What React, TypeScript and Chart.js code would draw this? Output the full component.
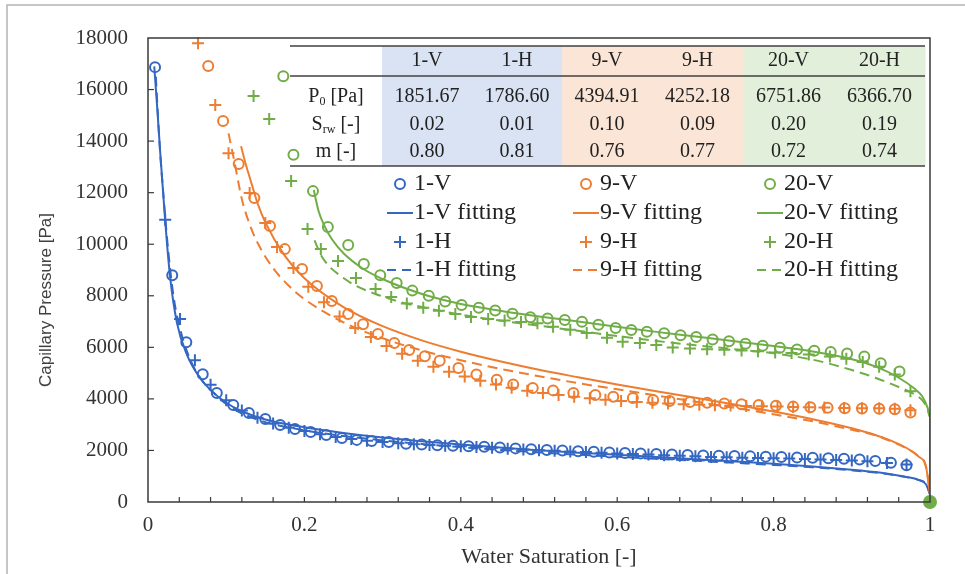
import React, { useEffect, useRef } from 'react';
import { Chart, registerables } from 'chart.js';

Chart.register(...registerables);

const SERIF = "'Liberation Serif', 'Times New Roman', serif";
const SANS = "'Liberation Sans', Arial, sans-serif";
const BLUE = '#3467c2';
const ORANGE = '#ed7d31';
const GREEN = '#70ad47';
const TEXT = '#333333';

type Pt = [number, number];

// ---------- measured data (Water Saturation, Capillary Pressure) ----------
const points1V: Pt[] = [
  [0.009, 16870], [0.031, 8800], [0.049, 6200], [0.070, 4960], [0.088, 4230], [0.109, 3760],
  [0.129, 3450], [0.150, 3220], [0.169, 2990], [0.188, 2830], [0.208, 2720], [0.228, 2600],
  [0.248, 2480], [0.267, 2410], [0.286, 2370], [0.308, 2330], [0.330, 2260], [0.350, 2230],
  [0.370, 2200], [0.390, 2180], [0.410, 2160], [0.430, 2140], [0.450, 2110], [0.470, 2080],
  [0.490, 2050], [0.510, 2020], [0.530, 2000], [0.550, 1970], [0.570, 1950], [0.590, 1920],
  [0.610, 1900], [0.630, 1880], [0.650, 1860], [0.670, 1840], [0.690, 1820], [0.710, 1800],
  [0.730, 1790], [0.750, 1780], [0.770, 1770], [0.790, 1760], [0.810, 1750], [0.830, 1730],
  [0.850, 1720], [0.870, 1700], [0.890, 1680], [0.910, 1650], [0.930, 1590], [0.950, 1520],
  [0.970, 1430], [1.000, 0],
];

const points1H: Pt[] = [
  [0.022, 10950], [0.041, 7100], [0.060, 5500], [0.080, 4550], [0.100, 3950], [0.120, 3550],
  [0.140, 3270], [0.160, 3050], [0.180, 2880], [0.200, 2750], [0.220, 2630], [0.240, 2520],
  [0.260, 2440], [0.280, 2380], [0.300, 2330], [0.320, 2280], [0.340, 2240], [0.360, 2210],
  [0.380, 2180], [0.400, 2160], [0.420, 2130], [0.440, 2100], [0.460, 2070], [0.480, 2040],
  [0.500, 2010], [0.520, 1990], [0.540, 1960], [0.560, 1940], [0.580, 1910], [0.600, 1880],
  [0.620, 1860], [0.640, 1840], [0.660, 1810], [0.680, 1790], [0.700, 1770], [0.720, 1750],
  [0.740, 1740], [0.760, 1720], [0.780, 1710], [0.800, 1700], [0.820, 1690], [0.840, 1670],
  [0.860, 1650], [0.880, 1630], [0.900, 1610], [0.920, 1580], [0.945, 1510], [0.970, 1450],
  [1.000, 0],
];

const points9V: Pt[] = [
  [0.077, 16910], [0.096, 14780], [0.116, 13110], [0.136, 11790], [0.156, 10710], [0.175, 9810],
  [0.197, 9040], [0.216, 8380], [0.235, 7800], [0.256, 7290], [0.275, 6900], [0.294, 6520],
  [0.315, 6170], [0.334, 5900], [0.354, 5650], [0.373, 5480], [0.397, 5200], [0.420, 4950],
  [0.446, 4740], [0.467, 4560], [0.492, 4420], [0.518, 4330], [0.544, 4230], [0.572, 4150],
  [0.595, 4080], [0.620, 4030], [0.646, 3960], [0.667, 3920], [0.693, 3880], [0.715, 3850],
  [0.737, 3820], [0.759, 3790], [0.781, 3760], [0.803, 3730], [0.825, 3700], [0.847, 3680],
  [0.869, 3660], [0.891, 3640], [0.913, 3630], [0.935, 3620], [0.955, 3600], [0.975, 3470],
  [1.000, 0],
];

const points9H: Pt[] = [
  [0.064, 17800], [0.086, 15400], [0.103, 13530], [0.130, 11990], [0.150, 10820], [0.165, 9890],
  [0.186, 9080], [0.205, 8350], [0.225, 7750], [0.245, 7200], [0.265, 6750], [0.285, 6400],
  [0.305, 6050], [0.325, 5750], [0.345, 5480], [0.365, 5250], [0.385, 5050], [0.405, 4870],
  [0.425, 4700], [0.445, 4560], [0.465, 4430], [0.485, 4320], [0.505, 4230], [0.525, 4150],
  [0.545, 4080], [0.565, 4020], [0.585, 3970], [0.605, 3920], [0.625, 3880], [0.645, 3850],
  [0.665, 3820], [0.685, 3790], [0.705, 3770], [0.725, 3750], [0.745, 3740], [0.765, 3720],
  [0.785, 3710], [0.805, 3700], [0.825, 3690], [0.845, 3680], [0.865, 3670], [0.890, 3650],
  [0.913, 3640], [0.935, 3640], [0.955, 3620], [0.975, 3560], [1.000, 0],
];

const points20V: Pt[] = [
  [0.173, 16520], [0.186, 13470], [0.211, 12060], [0.230, 10670], [0.256, 9970], [0.276, 9230],
  [0.297, 8800], [0.318, 8500], [0.338, 8200], [0.359, 8000], [0.380, 7780], [0.401, 7640],
  [0.423, 7540], [0.444, 7430], [0.466, 7300], [0.489, 7170], [0.511, 7120], [0.533, 7060],
  [0.555, 6990], [0.576, 6880], [0.598, 6750], [0.618, 6670], [0.638, 6600], [0.660, 6550],
  [0.681, 6470], [0.701, 6400], [0.722, 6300], [0.743, 6240], [0.764, 6140], [0.786, 6060],
  [0.808, 5980], [0.830, 5920], [0.852, 5870], [0.873, 5820], [0.894, 5760], [0.916, 5640],
  [0.937, 5380], [0.961, 5060], [1.000, 0],
];

const points20H: Pt[] = [
  [0.135, 15750], [0.155, 14860], [0.183, 12450], [0.204, 10590], [0.221, 9810], [0.243, 9350],
  [0.266, 8690], [0.291, 8260], [0.311, 7950], [0.331, 7700], [0.352, 7540], [0.372, 7420],
  [0.393, 7290], [0.413, 7180], [0.435, 7100], [0.456, 7040], [0.477, 6980], [0.498, 6930],
  [0.518, 6800], [0.540, 6680], [0.561, 6560], [0.587, 6370], [0.607, 6220], [0.629, 6170],
  [0.650, 6090], [0.671, 5990], [0.693, 5950], [0.715, 5930], [0.737, 5910], [0.759, 5880],
  [0.780, 5850], [0.802, 5800], [0.823, 5780], [0.845, 5720], [0.872, 5640], [0.893, 5560],
  [0.914, 5430], [0.935, 5250], [0.955, 4950], [0.975, 4300], [1.000, 0],
];

// ---------- fitted curves ----------
const fit1V: Pt[] = [
  [0.008, 16900], [0.012, 15200], [0.016, 13400], [0.022, 10900], [0.028, 8800], [0.037, 6950],
  [0.050, 5700], [0.065, 4880], [0.080, 4350], [0.100, 3850], [0.120, 3520], [0.150, 3200],
  [0.200, 2900], [0.250, 2680], [0.300, 2500], [0.350, 2360], [0.400, 2230], [0.450, 2110],
  [0.500, 2010], [0.550, 1915], [0.600, 1830], [0.650, 1745], [0.700, 1660], [0.750, 1575],
  [0.800, 1485], [0.850, 1380], [0.900, 1255], [0.930, 1165], [0.950, 1080], [0.970, 970],
  [0.985, 860], [0.995, 680], [1.000, 300],
];

const fit1H: Pt[] = [
  [0.010, 16500], [0.015, 13800], [0.020, 11800], [0.026, 9700], [0.033, 7900], [0.042, 6600],
  [0.055, 5450], [0.070, 4680], [0.085, 4200], [0.100, 3800], [0.120, 3440], [0.150, 3100],
  [0.200, 2780], [0.250, 2560], [0.300, 2390], [0.350, 2250], [0.400, 2130], [0.450, 2020],
  [0.500, 1925], [0.550, 1835], [0.600, 1755], [0.650, 1675], [0.700, 1600], [0.750, 1520],
  [0.800, 1440], [0.850, 1345], [0.900, 1230], [0.930, 1145], [0.950, 1065], [0.970, 965],
  [0.985, 860], [0.995, 690], [1.000, 300],
];

const fit9V: Pt[] = [
  [0.119, 13800], [0.125, 13100], [0.130, 12600], [0.140, 11600], [0.150, 10850], [0.175, 9550],
  [0.200, 8680], [0.250, 7560], [0.300, 6820], [0.350, 6270], [0.400, 5830], [0.450, 5460],
  [0.500, 5130], [0.550, 4840], [0.600, 4560], [0.650, 4300], [0.700, 4040], [0.750, 3780],
  [0.800, 3510], [0.850, 3210], [0.900, 2860], [0.930, 2600], [0.950, 2380], [0.970, 2095],
  [0.985, 1770], [0.995, 1350], [1.000, 300],
];

const fit9H: Pt[] = [
  [0.103, 14300], [0.110, 13280], [0.120, 11750], [0.130, 10770], [0.140, 10060], [0.160, 9070],
  [0.180, 8390], [0.200, 7870], [0.250, 6970], [0.300, 6350], [0.350, 5880], [0.400, 5500],
  [0.450, 5170], [0.500, 4880], [0.550, 4610], [0.600, 4370], [0.650, 4130], [0.700, 3890],
  [0.750, 3655], [0.800, 3400], [0.850, 3130], [0.900, 2800], [0.930, 2590], [0.950, 2350],
  [0.970, 2080], [0.985, 1790], [0.995, 1370], [1.000, 300],
];

const fit20V: Pt[] = [
  [0.212, 12100], [0.218, 11300], [0.225, 10750], [0.235, 10200], [0.250, 9650], [0.275, 9050],
  [0.300, 8650], [0.330, 8280], [0.360, 7980], [0.400, 7680], [0.450, 7420], [0.500, 7200],
  [0.550, 7000], [0.600, 6800], [0.650, 6600], [0.700, 6420], [0.750, 6240], [0.800, 6050],
  [0.850, 5840], [0.900, 5540], [0.930, 5260], [0.960, 4820], [0.980, 4400], [0.990, 4100],
  [0.997, 3650], [1.000, 3300], [1.000, 0],
];

const fit20H: Pt[] = [
  [0.213, 10150], [0.220, 9650], [0.230, 9200], [0.245, 8800], [0.265, 8400], [0.290, 8080],
  [0.320, 7780], [0.360, 7500], [0.400, 7270], [0.450, 7040], [0.500, 6840], [0.550, 6640],
  [0.600, 6440], [0.650, 6250], [0.700, 6080], [0.750, 5930], [0.800, 5770], [0.850, 5520],
  [0.900, 5120], [0.930, 4820], [0.960, 4460], [0.980, 4180], [0.990, 3950], [0.997, 3600],
  [1.000, 3300], [1.000, 0],
];

// ---------- axis and table text ----------
const xTickLabels = ['0', '0.2', '0.4', '0.6', '0.8', '1'];
const yMin = 0;
const yMax = 18000;
const yStep = 2000;
const xTitle = 'Water Saturation [-]';
const yTitle = 'Capillary Pressure [Pa]';

const tableHeaders = ['1-V', '1-H', '9-V', '9-H', '20-V', '20-H'];
const p0Values = ['1851.67', '1786.60', '4394.91', '4252.18', '6751.86', '6366.70'];
const srwValues = ['0.02', '0.01', '0.10', '0.09', '0.20', '0.19'];
const mValues = ['0.80', '0.81', '0.76', '0.77', '0.72', '0.74'];

const legendGroups = [
  { color: BLUE, labels: ['1-V', '1-V fitting', '1-H', '1-H fitting'] },
  { color: ORANGE, labels: ['9-V', '9-V fitting', '9-H', '9-H fitting'] },
  { color: GREEN, labels: ['20-V', '20-V fitting', '20-H', '20-H fitting'] },
];
const legendKinds = ['circle', 'line', 'plus', 'dash'];

const toXY = (a: Pt[]) => a.map(([x, y]) => ({ x, y }));

function markerSet(label: string, pts: Pt[], color: string, style: string, order: number, fillEnd: boolean) {
  const atEnd = (c: any) => c.raw && c.raw.x === 1 && c.raw.y === 0;
  return {
    label,
    data: toXY(pts),
    showLine: false,
    pointStyle: style,
    pointRadius: (c: any) => (fillEnd && atEnd(c) ? 5 : style === 'circle' ? 5 : 6),
    pointHoverRadius: style === 'circle' ? 5 : 6,
    pointBorderWidth: (c: any) => (fillEnd && atEnd(c) ? 4 : 2),
    borderWidth: 2,
    borderColor: color,
    backgroundColor: (c: any) => (fillEnd && atEnd(c) ? color : 'rgba(0,0,0,0)'),
    clip: false,
    order,
  };
}

function fitSet(label: string, pts: Pt[], color: string, dashed: boolean, order: number) {
  return {
    label,
    data: toXY(pts),
    showLine: true,
    pointRadius: 0,
    pointHoverRadius: 0,
    borderWidth: 2,
    borderColor: color,
    backgroundColor: color,
    borderDash: dashed ? [10, 6] : [],
    cubicInterpolationMode: 'monotone',
    fill: false,
    order,
  };
}

function drawSubText(ctx: CanvasRenderingContext2D, parts: { t: string; sub?: boolean }[], cx: number, cy: number, size: number) {
  const big = `${size}px ${SERIF}`;
  const small = `${Math.round(size * 0.62)}px ${SERIF}`;
  let total = 0;
  parts.forEach((p) => {
    ctx.font = p.sub ? small : big;
    total += ctx.measureText(p.t).width;
  });
  let x = cx - total / 2;
  ctx.textAlign = 'left';
  ctx.textBaseline = 'middle';
  parts.forEach((p) => {
    ctx.font = p.sub ? small : big;
    ctx.fillText(p.t, x, p.sub ? cy + size * 0.25 : cy);
    x += ctx.measureText(p.t).width;
  });
}

const decorPlugin = {
  id: 'decor',
  afterDatasetsDraw(chart: any) {
    const ctx: CanvasRenderingContext2D = chart.ctx;
    const { left: L, right: R, top: T, bottom: B } = chart.chartArea;
    const xs = chart.scales.x;
    const ys = chart.scales.y;
    ctx.save();

    // plot box
    ctx.strokeStyle = '#3a3a3a';
    ctx.lineWidth = 1.5;
    ctx.strokeRect(L, T, R - L, B - T);

    // inward tick marks
    ctx.lineWidth = 1.2;
    for (let i = 1; i < 25; i++) {
      const px = xs.getPixelForValue(i * 0.04);
      ctx.beginPath();
      ctx.moveTo(px, B);
      ctx.lineTo(px, B - 5);
      ctx.stroke();
    }
    for (let v = yMin + yStep; v < yMax; v += yStep) {
      const py = ys.getPixelForValue(v);
      ctx.beginPath();
      ctx.moveTo(L, py);
      ctx.lineTo(L + 6, py);
      ctx.stroke();
    }

    // ---------- parameter table ----------
    const edges = [142, 234, 324, 414, 504, 595, 686, 777].map((e) => L + e);
    const yTop = T + 8;
    const yHead = T + 38;
    const yBot = T + 128;
    const bg = ['#dae3f3', '#dae3f3', '#fbe5d6', '#fbe5d6', '#e2efda', '#e2efda'];
    for (let c = 0; c < 6; c++) {
      ctx.fillStyle = bg[c];
      ctx.fillRect(edges[c + 1], yTop, edges[c + 2] - edges[c + 1] + 0.5, yBot - yTop);
    }
    ctx.strokeStyle = '#404040';
    ctx.lineWidth = 1.5;
    [yTop, yHead, yBot].forEach((y) => {
      ctx.beginPath();
      ctx.moveTo(edges[0], y);
      ctx.lineTo(edges[7], y);
      ctx.stroke();
    });
    ctx.fillStyle = '#222222';
    const rowY = [T + 59, T + 87, T + 114];
    const rows = [p0Values, srwValues, mValues];
    for (let c = 0; c < 6; c++) {
      const cx = (edges[c + 1] + edges[c + 2]) / 2;
      ctx.font = `20px ${SERIF}`;
      ctx.textAlign = 'center';
      ctx.textBaseline = 'middle';
      ctx.fillText(tableHeaders[c], cx, T + 23);
      rows.forEach((r, i) => ctx.fillText(r[c], cx, rowY[i]));
    }
    const lx = (edges[0] + edges[1]) / 2;
    drawSubText(ctx, [{ t: 'P' }, { t: '0', sub: true }, { t: ' [Pa]' }], lx, rowY[0], 20);
    drawSubText(ctx, [{ t: 'S' }, { t: 'rw', sub: true }, { t: ' [-]' }], lx, rowY[1], 20);
    drawSubText(ctx, [{ t: 'm [-]' }], lx, rowY[2], 20);

    // ---------- legend ----------
    const colX = [252, 438, 622].map((e) => L + e);
    const legY = [146, 175, 204, 232].map((e) => T + e);
    legendGroups.forEach((g, ci) => {
      const cx = colX[ci];
      g.labels.forEach((lab, ri) => {
        const cy = legY[ri];
        const kind = legendKinds[ri];
        ctx.strokeStyle = g.color;
        ctx.lineWidth = 2;
        ctx.setLineDash([]);
        if (kind === 'circle') {
          ctx.beginPath();
          ctx.arc(cx, cy, 5, 0, Math.PI * 2);
          ctx.stroke();
        } else if (kind === 'plus') {
          ctx.beginPath();
          ctx.moveTo(cx - 6, cy);
          ctx.lineTo(cx + 6, cy);
          ctx.moveTo(cx, cy - 6);
          ctx.lineTo(cx, cy + 6);
          ctx.stroke();
        } else {
          if (kind === 'dash') ctx.setLineDash([9, 6]);
          ctx.beginPath();
          ctx.moveTo(cx - 13, cy);
          ctx.lineTo(cx + 13, cy);
          ctx.stroke();
          ctx.setLineDash([]);
        }
        ctx.fillStyle = '#222222';
        ctx.font = `24px ${SERIF}`;
        ctx.textAlign = 'left';
        ctx.textBaseline = 'middle';
        ctx.fillText(lab, cx + 14, cy);
      });
    });

    // ---------- axis titles ----------
    ctx.save();
    ctx.translate(L - 102, T + 262);
    ctx.rotate(-Math.PI / 2);
    ctx.fillStyle = '#404040';
    ctx.font = `17px ${SANS}`;
    ctx.textAlign = 'center';
    ctx.textBaseline = 'middle';
    ctx.fillText(yTitle, 0, 0);
    ctx.restore();

    ctx.fillStyle = TEXT;
    ctx.font = `22px ${SERIF}`;
    ctx.textAlign = 'center';
    ctx.textBaseline = 'middle';
    ctx.fillText(xTitle, L + 401, B + 55);

    // outer frame
    ctx.strokeStyle = '#b4b4b4';
    ctx.lineWidth = 1.5;
    ctx.beginPath();
    ctx.moveTo(7, chart.height);
    ctx.lineTo(7, 5);
    ctx.lineTo(chart.width, 5);
    ctx.stroke();

    ctx.restore();
  },
};

export default function App() {
  const ref = useRef<HTMLCanvasElement>(null);

  useEffect(() => {
    if (!ref.current) return;
    const datasets: any[] = [
      markerSet('20-V', points20V, GREEN, 'circle', 0, true),
      markerSet('20-H', points20H, GREEN, 'cross', 0, true),
      fitSet('20-V fitting', fit20V, GREEN, false, 1),
      fitSet('20-H fitting', fit20H, GREEN, true, 1),
      markerSet('9-V', points9V, ORANGE, 'circle', 2, false),
      markerSet('9-H', points9H, ORANGE, 'cross', 2, false),
      fitSet('9-V fitting', fit9V, ORANGE, false, 3),
      fitSet('9-H fitting', fit9H, ORANGE, true, 3),
      markerSet('1-V', points1V, BLUE, 'circle', 4, false),
      markerSet('1-H', points1H, BLUE, 'cross', 4, false),
      fitSet('1-V fitting', fit1V, BLUE, false, 5),
      fitSet('1-H fitting', fit1H, BLUE, true, 5),
    ];

    const chart = new Chart(ref.current, {
      type: 'scatter',
      data: { datasets },
      options: {
        responsive: true,
        maintainAspectRatio: false,
        animation: false,
        layout: { padding: { left: 0, top: 38, right: 35, bottom: 0 } },
        plugins: { legend: { display: false }, tooltip: { enabled: false } },
        scales: {
          x: {
            type: 'linear',
            min: 0,
            max: 1,
            afterFit: (s: any) => { s.height = 72; },
            grid: { display: false },
            border: { display: false },
            ticks: {
              stepSize: 0.2,
              autoSkip: false,
              maxRotation: 0,
              padding: 3,
              color: TEXT,
              font: { family: SERIF, size: 21 },
              callback: (_v: any, i: number) => xTickLabels[i],
            },
            title: { display: false, text: xTitle },
          },
          y: {
            type: 'linear',
            min: yMin,
            max: yMax,
            afterFit: (s: any) => { s.width = 148; },
            grid: { display: false },
            border: { display: false },
            ticks: {
              stepSize: yStep,
              padding: 12,
              color: TEXT,
              font: { family: SERIF, size: 21 },
              callback: (v: any) => String(v),
            },
          },
        },
      },
      plugins: [decorPlugin],
    } as any);

    return () => chart.destroy();
  }, []);

  return (
    <div style={{ position: 'fixed', left: 0, top: 0, width: 965, height: 574, background: '#ffffff' }}>
      <canvas ref={ref} />
    </div>
  );
}
